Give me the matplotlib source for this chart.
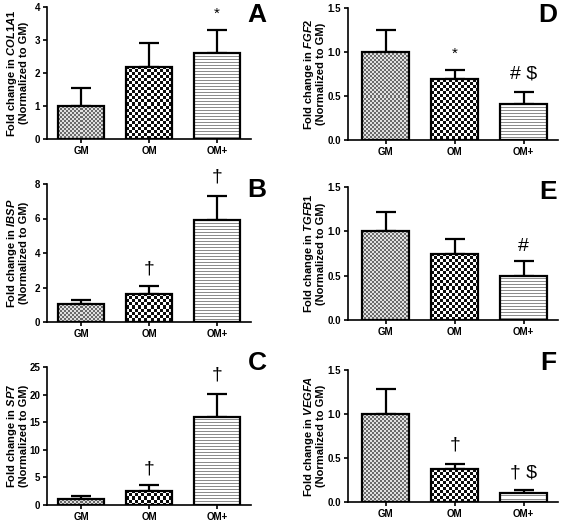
import matplotlib
matplotlib.use("Agg")
import matplotlib.pyplot as plt
import numpy as np

plt.rcParams['font.family'] = ['Liberation Sans', 'DejaVu Sans']
plt.rcParams['font.weight'] = 'bold'
plt.rcParams['mathtext.fontset'] = 'custom'
plt.rcParams['mathtext.it'] = 'Liberation Sans:bold:italic'
plt.rcParams['mathtext.rm'] = 'Liberation Sans:bold'

# --- data ---
groups = ["GM", "OM", "OM+"]

col1a1 = [1.0, 2.19, 2.60]
col1a1_err = [0.55, 0.73, 0.71]
ibsp = [1.02, 1.64, 5.90]
ibsp_err = [0.27, 0.45, 1.42]
sp7 = [1.02, 2.60, 15.96]
sp7_err = [0.60, 1.00, 4.10]
fgf2 = [1.0, 0.69, 0.405]
fgf2_err = [0.25, 0.11, 0.135]
tgfb1 = [1.0, 0.746, 0.498]
tgfb1_err = [0.215, 0.167, 0.17]
vegfa = [1.0, 0.372, 0.106]
vegfa_err = [0.28, 0.065, 0.031]

W, H = 563, 523

# (gene, values, errors, ymax, yticks, tick format, marks, mark y, letter,
#  axes box in pixels: left, top, right, bottom, xlim left, label x)
panels = [
    ("COL1A1", col1a1, col1a1_err, 4, [0, 1, 2, 3, 4], "{:.0f}",
     ["", "", "*"], [0, 0, 3.78], "A", (47, 7, 251, 139, -0.5, 29)),
    ("IBSP", ibsp, ibsp_err, 8, [0, 2, 4, 6, 8], "{:.0f}",
     ["", "\u2020", "\u2020"], [0, 3.1, 8.4], "B", (47, 184, 251, 322, -0.5, 29)),
    ("SP7", sp7, sp7_err, 25, [0, 5, 10, 15, 20, 25], "{:.0f}",
     ["", "\u2020", "\u2020"], [0, 6.5, 23.5], "C", (47, 367, 251, 505, -0.5, 29)),
    ("FGF2", fgf2, fgf2_err, 1.5, [0, 0.5, 1.0, 1.5], "{:.1f}",
     ["", "*", "# $"], [0, 0.98, 0.75], "D", (348, 8, 558, 140, -0.55, 326)),
    ("TGFB1", tgfb1, tgfb1_err, 1.5, [0, 0.5, 1.0, 1.5], "{:.1f}",
     ["", "", "#"], [0, 0, 0.83], "E", (348, 187, 558, 320, -0.55, 326)),
    ("VEGFA", vegfa, vegfa_err, 1.5, [0, 0.5, 1.0, 1.5], "{:.1f}",
     ["", "\u2020", "\u2020 $"], [0, 0.65, 0.33], "F", (348, 370, 558, 502, -0.55, 326)),
]
letter_pos = {"A": (257, 15), "B": (257, 190), "C": (257, 363),
              "D": (548, 15), "E": (548, 192), "F": (548, 363)}


def texture(kind, h, w):
    # bar fill patterns, built at pixel scale
    yy, xx = np.mgrid[0:h, 0:w]
    if kind == 0:
        return np.where(((yy // 2) + (xx // 2)) % 2 == 0, 0.42, 0.88)
    if kind == 1:
        return np.where(((yy // 3) + (xx // 3)) % 2 == 0, 0.05, 1.0)
    return np.where(yy % 3 == 0, 0.55, 1.0)


fig = plt.figure(figsize=(W / 100, H / 100), dpi=100)
x = np.arange(len(groups))

for gene, vals, errs, ymax, yticks, fmt, marks, mark_y, letter, box in panels:
    l, t, r, b, xl, lab_x = box
    ax = fig.add_axes([l / W, 1 - b / H, (r - l) / W, (b - t) / H])
    ax.set_xlim(xl, 2.5)
    ax.set_ylim(0, ymax)

    ax.errorbar(x, vals, yerr=[np.zeros(3), errs], fmt="none", ecolor="black",
                elinewidth=1.6, capsize=7.5, capthick=1.6, zorder=1)
    bars = ax.bar(x, vals, width=0.68, facecolor="none", edgecolor="black",
                  linewidth=1.6, zorder=3)

    for i, bar in enumerate(bars):
        x0, x1 = bar.get_x(), bar.get_x() + bar.get_width()
        p0 = ax.transData.transform((x0, 0))
        p1 = ax.transData.transform((x1, vals[i]))
        wpx = max(int(round(p1[0] - p0[0])), 1)
        hpx = max(int(round(p1[1] - p0[1])), 1)
        img = texture(i, hpx, wpx)
        ax.imshow(img, cmap="gray", vmin=0, vmax=1, extent=(x0, x1, 0, vals[i]),
                  origin="upper", aspect="auto", interpolation="nearest",
                  clip_path=bar, zorder=2)

    ax.set_xlim(xl, 2.5)
    ax.set_ylim(0, ymax)

    for i, m in enumerate(marks):
        if m:
            size = 11 if m == "*" else 14
            ax.text(x[i], mark_y[i], m, ha="center", va="center", fontsize=size,
                    fontweight="normal", clip_on=False)

    for s in ["top", "right"]:
        ax.spines[s].set_visible(False)
    for s in ["left", "bottom"]:
        ax.spines[s].set_linewidth(1.2)
    ax.set_xticks(x)
    ax.set_xticklabels(groups, fontsize=7, fontweight="bold")
    ax.set_yticks(yticks)
    ax.set_yticklabels([fmt.format(v) for v in yticks], fontsize=7,
                       fontweight="bold")
    ax.tick_params(axis="both", length=3, width=1.2, pad=2)
    ax.set_ylabel("Fold change in $\\it{" + gene + "}$\n(Normalized to GM)",
                  fontsize=8, fontweight="bold", linespacing=1.0)
    # all labels sit at the same distance from the figure edge
    ax.yaxis.set_label_coords((lab_x - l) / (r - l), 0.5)

    lx, ly = letter_pos[letter]
    fig.text(lx / W, 1 - ly / H, letter, ha="center", va="center",
             fontsize=19, fontweight="bold")

fig.savefig("out.png", dpi=100)
